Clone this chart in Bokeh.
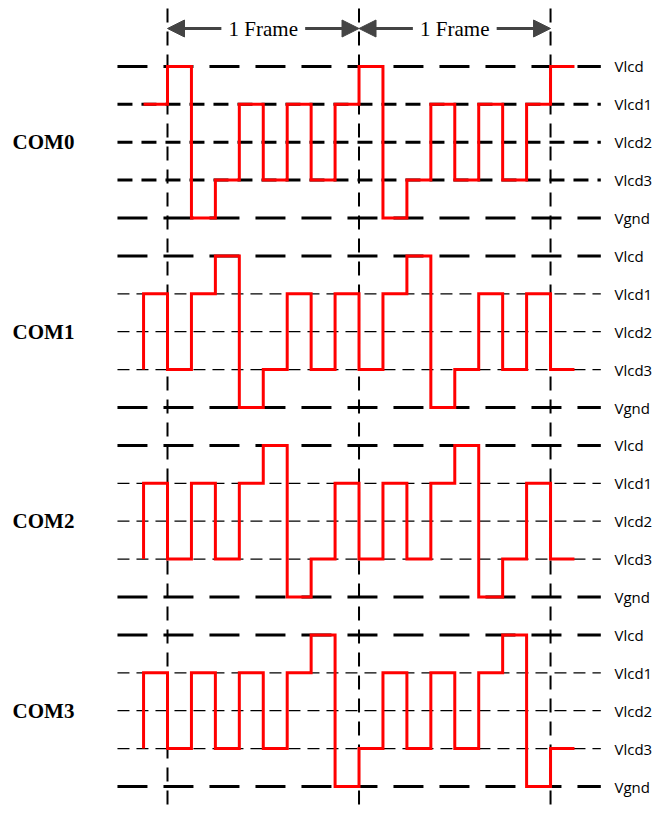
from bokeh.plotting import figure
from bokeh.models import Arrow, NormalHead
from bokeh.core.properties import value
from bokeh.embed import file_html
from bokeh.resources import INLINE

# ---- data ----
com_names = ["COM0", "COM1", "COM2", "COM3"]
level_labels = ["Vlcd", "Vlcd1", "Vlcd2", "Vlcd3", "Vgnd"]
level_values = [4, 3, 2, 1, 0]
frame_bounds = [0, 8, 16]
frame_label = "1 Frame"
t_start = -1  # first step index
# level per step (Vlcd=4, Vlcd1=3, Vlcd2=2, Vlcd3=1, Vgnd=0), steps t=-1..16
com0 = [3, 4, 0, 1, 3, 1, 3, 1, 3, 4, 0, 1, 3, 1, 3, 1, 3, 4]
com1 = [3, 1, 3, 4, 0, 1, 3, 1, 3, 1, 3, 4, 0, 1, 3, 1, 3, 1]
com2 = [3, 1, 3, 1, 3, 4, 0, 1, 3, 1, 3, 1, 3, 4, 0, 1, 3, 1]
com3 = [3, 1, 3, 1, 3, 1, 3, 4, 0, 1, 3, 1, 3, 1, 3, 4, 0, 1]
com_start_levels = [None, 1, 1, 1]
waves = [com0, com1, com2, com3]
group_offsets = [15, 10, 5, 0]

# ---- figure ----
W, H = 655, 808
x0_px = 167.0
px_per_t = 23.94
y0_px = 786.0
px_per_l = 37.9
p = figure(width=W, height=H, output_backend="svg", toolbar_location=None,
           x_range=(-x0_px / px_per_t, (W - x0_px) / px_per_t),
           y_range=((y0_px - H) / px_per_l, y0_px / px_per_l),
           min_border=0, min_border_left=0, min_border_right=0,
           min_border_top=0, min_border_bottom=0)
p.axis.visible = False
p.grid.visible = False
p.outline_line_color = None
p.background_fill_color = "white"
p.border_fill_color = "white"

hl_start, hl_end = -2.09, 18.1
v_top = (y0_px - 8) / px_per_l
v_bot = (y0_px - H - 10) / px_per_l
label_x = (614 - x0_px) / px_per_t

for gi, (name, wave, off) in enumerate(zip(com_names, waves, group_offsets)):
    # horizontal reference lines
    for lab, lv in zip(level_labels, level_values):
        y = lv + off
        if lv in (4, 0):
            p.line([hl_start, hl_end], [y, y], line_color="black", line_width=3, line_dash="30 16")
        elif gi == 0:
            p.line([hl_start, hl_end], [y, y], line_color="black", line_width=3, line_dash="15 9")
        else:
            p.line([hl_start, hl_end], [y, y], line_color="black", line_width=1.2, line_dash="12 7")
        p.text(x=[label_x], y=[y], text=[lab], text_font=value("Open Sans"),
               text_font_size="15px", text_baseline="middle", text_align="left",
               text_color="black")
    # COM label
    p.text(x=[-6.47], y=[2 + off], text=[name], text_font=value("Liberation Serif"),
           text_font_size="21px", text_font_style="bold", text_baseline="middle",
           text_align="left", text_color="black")

# vertical frame lines
for fb in frame_bounds:
    p.line([fb, fb], [v_top, v_bot], line_color="black", line_width=2, line_dash="14 9")

# waveforms
for wave, off, s0 in zip(waves, group_offsets, com_start_levels):
    xs, ys = [], []
    if s0 is not None:
        xs.append(t_start)
        ys.append(s0 + off)
    for i, lv in enumerate(wave):
        t = t_start + i
        xs += [t, t + 1]
        ys += [lv + off, lv + off]
    p.line(xs, ys, line_color="#ff0000", line_width=3, line_join="miter")

# frame arrows
ya = (y0_px - 28) / px_per_l
for a, b in zip(frame_bounds[:-1], frame_bounds[1:]):
    mid = (a + b) / 2
    half = 1.75
    for xs_, xe_ in ((mid - half, a), (mid + half, b)):
        p.add_layout(Arrow(x_start=xs_, y_start=ya, x_end=xe_, y_end=ya,
                           line_color="#444444", line_width=3,
                           end=NormalHead(size=17, fill_color="#444444",
                                          line_color="#444444", line_width=1)))
    p.text(x=[mid], y=[ya], text=[frame_label], text_font=value("Liberation Serif"),
           text_font_size="21px", text_baseline="middle", text_align="center",
           text_color="black")

open("out.html", "w").write(file_html(p, INLINE))
